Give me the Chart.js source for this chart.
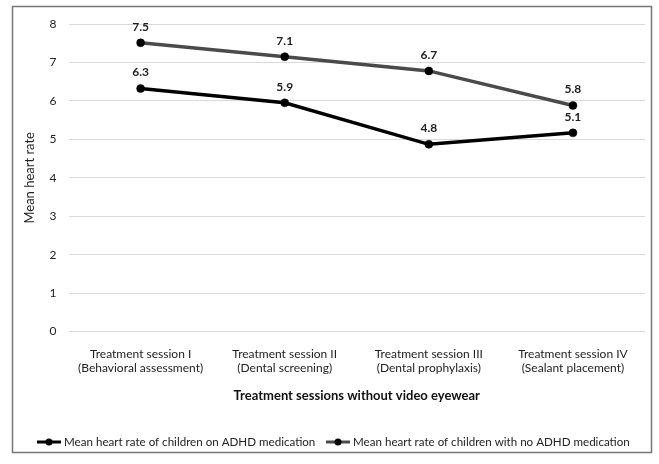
<!DOCTYPE html>
<html><head><meta charset="utf-8">
<script src="https://cdn.jsdelivr.net/npm/chart.js@4/dist/chart.umd.min.js"></script>
<style>html,body{margin:0;padding:0;background:#fff;}#wrap{width:659px;height:464px;position:relative;}</style>
</head><body>
<div id="wrap"><canvas id="c" width="659" height="464"></canvas></div>
<script>
const categories = [
  ["Treatment session I","(Behavioral assessment)"],
  ["Treatment session II","(Dental screening)"],
  ["Treatment session III","(Dental prophylaxis)"],
  ["Treatment session IV","(Sealant placement)"]
];
// plotted positions
const adhdMed = [6.32, 5.95, 4.87, 5.17];
const noAdhdMed = [7.51, 7.15, 6.78, 5.88];
// value labels as printed on the picture
const adhdMedLabels = ["6.3", "5.9", "4.8", "5.1"];
const noAdhdMedLabels = ["7.5", "7.1", "6.7", "5.8"];
const seriesNames = ["Mean heart rate of children on ADHD medication", "Mean heart rate of children with no ADHD medication"];
const yTitle = "Mean heart rate";
const xTitle = "Treatment sessions without video eyewear";
const FONT = "Lato, 'Open Sans', sans-serif";
const valueLabels = [adhdMedLabels, noAdhdMedLabels];

const framePlugin = {
  id: 'frame',
  beforeDraw(chart) {
    const ctx = chart.ctx;
    ctx.save();
    ctx.fillStyle = '#fff';
    ctx.fillRect(0, 0, chart.width, chart.height);
    ctx.strokeStyle = '#777';
    ctx.lineWidth = 1.5;
    ctx.strokeRect(12.5, 6.5, 639, 446);
    ctx.restore();
  }
};
const labelPlugin = {
  id: 'vlabels',
  afterDatasetsDraw(chart) {
    const ctx = chart.ctx;
    ctx.save();
    ctx.font = "bold 12px " + FONT;
    ctx.fillStyle = '#222';
    ctx.textAlign = 'center';
    ctx.textBaseline = 'bottom';
    chart.data.datasets.forEach((ds, i) => {
      chart.getDatasetMeta(i).data.forEach((pt, j) => {
        ctx.fillText(valueLabels[i][j], pt.x, pt.y - 10);
      });
    });
    ctx.restore();
  }
};
const legendPlugin = {
  id: 'customLegend',
  afterDraw(chart) {
    const ctx = chart.ctx;
    ctx.save();
    ctx.font = "11.6px " + FONT;
    ctx.textBaseline = 'middle';
    ctx.textAlign = 'left';
    const y = 442;
    const starts = [37, 326];
    chart.data.datasets.forEach((ds, i) => {
      const x = starts[i];
      ctx.strokeStyle = ds.borderColor;
      ctx.lineWidth = 3;
      ctx.beginPath(); ctx.moveTo(x, y); ctx.lineTo(x + 24, y); ctx.stroke();
      ctx.fillStyle = '#000';
      ctx.beginPath(); ctx.arc(x + 12, y, 3.5, 0, Math.PI * 2); ctx.fill();
      ctx.fillStyle = '#222';
      ctx.fillText(seriesNames[i], x + 27, y);
    });
    ctx.restore();
  }
};

new Chart(document.getElementById('c'), {
  type: 'line',
  data: {
    labels: categories,
    datasets: [
      { label: seriesNames[0], data: adhdMed, borderColor: '#000', backgroundColor: '#000',
        borderWidth: 3.5, pointRadius: 4, pointBorderWidth: 0.5, pointBackgroundColor: '#000', pointBorderColor: '#000', tension: 0 },
      { label: seriesNames[1], data: noAdhdMed, borderColor: '#4a4a4a', backgroundColor: '#000',
        borderWidth: 3.5, pointRadius: 4, pointBorderWidth: 0.5, pointBackgroundColor: '#000', pointBorderColor: '#000', tension: 0 }
    ]
  },
  options: {
    responsive: false,
    animation: false,
    devicePixelRatio: 1,
    layout: { padding: { left: 18, right: 14, top: 24, bottom: 56 } },
    plugins: { legend: { display: false }, tooltip: { enabled: false } },
    scales: {
      x: {
        offset: true,
        grid: { display: false },
        border: { display: false },
        ticks: { color: '#222', font: { size: 12, family: FONT }, padding: 7, maxRotation: 0 },
        title: { display: true, text: xTitle, color: '#111', font: { size: 13, weight: 'bold', family: FONT }, padding: { top: 6, bottom: 4 } }
      },
      y: {
        min: 0, max: 8,
        grid: { color: '#d9d9d9', lineWidth: 1, drawTicks: false },
        border: { display: false },
        ticks: { stepSize: 1, color: '#222', font: { size: 12, family: FONT }, padding: 12 },
        title: { display: true, text: yTitle, color: '#222', font: { size: 13, family: FONT }, padding: { top: 4, bottom: 0 } }
      }
    }
  },
  plugins: [framePlugin, labelPlugin, legendPlugin]
});
</script>
</body></html>
